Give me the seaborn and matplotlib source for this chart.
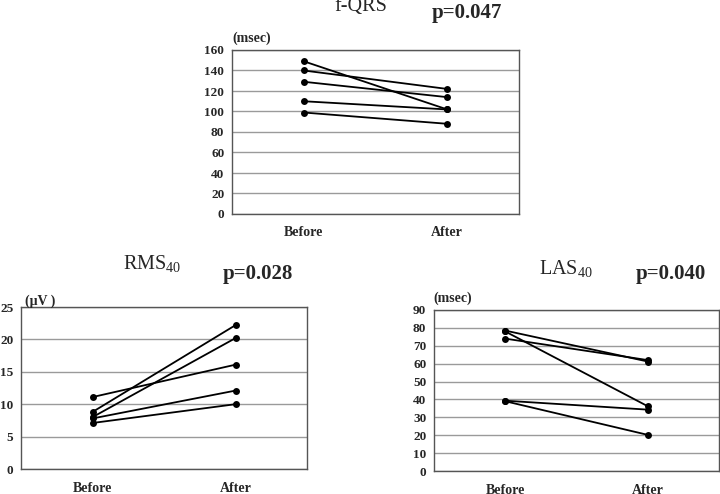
import matplotlib
matplotlib.use("Agg")
import matplotlib.pyplot as plt
import seaborn as sns
import pandas as pd

sns.set_theme(style="white")
plt.rcParams['font.family'] = ['Liberation Serif', 'DejaVu Serif']
plt.rcParams['mathtext.fontset'] = 'custom'
plt.rcParams['mathtext.rm'] = 'Liberation Serif'

# ---- data ----
times = ["Before", "After"]

fqrs_before = [149, 140, 129, 110, 99]
fqrs_after = [102, 122, 114, 102, 88]
fqrs_yticks = [0, 20, 40, 60, 80, 100, 120, 140, 160]

rms_before = [11.1, 8.8, 8.0, 7.8, 7.1]
rms_after = [16.1, 22.2, 20.2, 12.1, 10.0]
rms_yticks = [0, 5, 10, 15, 20, 25]

las_before = [78.5, 78.0, 74.0, 39.3, 39.0]
las_after = [61.2, 36.2, 62.0, 34.3, 20.2]
las_yticks = [0, 10, 20, 30, 40, 50, 60, 70, 80, 90]


def make_df(before, after):
    rows = []
    for i, (b, a) in enumerate(zip(before, after)):
        rows.append({"subject": i, "time": times[0], "value": b})
        rows.append({"subject": i, "time": times[1], "value": a})
    return pd.DataFrame(rows)


W, H = 720, 494
fig = plt.figure(figsize=(W / 100, H / 100), dpi=100)


def axes_px(left, top, right, bottom):
    return fig.add_axes([left / W, 1 - bottom / H, (right - left) / W, (bottom - top) / H])


def draw(ax, before, after, yticks):
    df = make_df(before, after)
    sns.lineplot(data=df, x="time", y="value", units="subject", estimator=None,
                 color="black", marker="o", markersize=5, markeredgewidth=0,
                 linewidth=1.3, ax=ax, legend=False, sort=False)
    ax.set_xlim(-0.5, 1.5)
    ax.set_ylim(yticks[0], yticks[-1])
    ax.set_yticks(yticks)
    ax.set_yticklabels([str(t) for t in yticks])
    ax.set_xticks([0, 1])
    ax.set_xticklabels(times)
    ax.set_xticks([0.5], minor=True)
    ax.tick_params(axis="x", which="major", length=0, pad=9, labelsize=10)
    ax.tick_params(axis="x", which="minor", length=3, direction="in", color="#555555", width=0.8)
    ax.tick_params(axis="y", length=0, pad=5.5, labelsize=9.5)
    for lab in ax.get_xticklabels() + ax.get_yticklabels():
        lab.set_fontweight("bold")
    ax.set_xlabel("")
    ax.set_ylabel("")
    ax.yaxis.grid(True, color="#9a9a9a", linewidth=1.0)
    ax.xaxis.grid(False)
    ax.set_axisbelow(True)
    for s in ax.spines.values():
        s.set_visible(True)
        s.set_color("#555555")
        s.set_linewidth(1.0)


ax1 = axes_px(232, 50, 519, 214)
draw(ax1, fqrs_before, fqrs_after, fqrs_yticks)

ax2 = axes_px(21, 307, 307, 469)
draw(ax2, rms_before, rms_after, rms_yticks)

ax3 = axes_px(434, 310, 719, 471)
draw(ax3, las_before, las_after, las_yticks)


def ftext(x, y, s, **kw):
    fig.text(x / W, 1 - y / H, s, **kw)


# titles
ftext(361, 6, "f-QRS", fontsize=14.5, ha="center", va="center")
ftext(467, 13, "p=0.047", fontsize=15, fontweight="bold", ha="center", va="center")
ftext(152, 264, r"RMS$_{\mathregular{40}}$", fontsize=14.5, ha="center", va="center")
ftext(258, 274, "p=0.028", fontsize=15, fontweight="bold", ha="center", va="center")
ftext(566, 269, r"LAS$_{\mathregular{40}}$", fontsize=14.5, ha="center", va="center")
ftext(671, 274, "p=0.040", fontsize=15, fontweight="bold", ha="center", va="center")

# units
ftext(232, 38, "(msec)", fontsize=10, fontweight="bold", ha="left", va="center")
ftext(25, 301, "(\u03bcV )", fontsize=10, fontweight="bold", ha="left", va="center")
ftext(433, 298, "(msec)", fontsize=10, fontweight="bold", ha="left", va="center")

fig.savefig("out.png", dpi=100, facecolor="white")
